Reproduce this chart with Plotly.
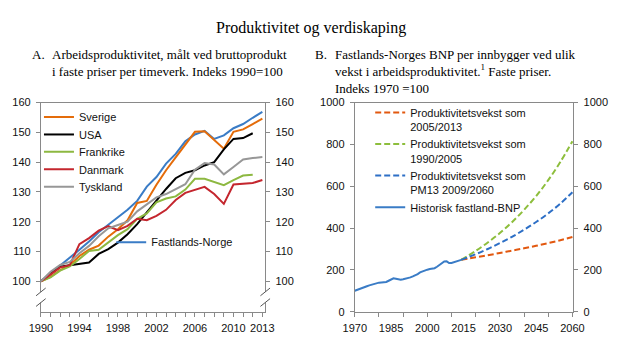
import plotly.graph_objects as go

W, H = 620, 352
def px(x): return x / W
def py(y): return 1 - y / H

# ---------------- Panel A data ----------------
years_a = list(range(1990, 2014))
years_a12 = list(range(1990, 2013))
sverige = [100, 101.5, 103.8, 105.4, 108.5, 110.6, 112.0, 115.0, 117.5, 120.5, 126.3, 127.0,
           132.4, 137.3, 141.6, 146.0, 150.2, 150.4, 147.5, 144.5, 150.2, 151.0, 152.8, 154.6]
usa = [100, 102.4, 104.9, 105.4, 105.8, 106.3, 109.2, 110.8, 113.0, 115.8, 119.2, 123.2,
       127.2, 131.0, 134.6, 136.4, 137.3, 138.9, 140.0, 144.3, 147.8, 148.1, 149.7]
frankrike = [100, 101.3, 103.6, 105.0, 107.5, 110.2, 110.6, 113.0, 115.5, 117.5, 121.0, 122.8,
             126.5, 127.8, 128.5, 130.8, 134.4, 134.4, 133.3, 132.3, 134.0, 135.5, 135.8]
danmark = [100, 102.5, 104.7, 105.4, 112.5, 114.5, 117.0, 118.5, 117.2, 118.6, 121.0, 120.5,
           122.0, 124.0, 127.3, 129.7, 130.8, 131.7, 129.3, 126.0, 132.5, 132.8, 133.0, 134.0]
tyskland = [100, 103.2, 105.5, 106.5, 109.4, 111.9, 115.1, 117.8, 118.9, 120.0, 123.5, 125.8,
            128.2, 129.3, 131.0, 132.6, 137.5, 139.7, 139.2, 135.9, 138.4, 140.9, 141.4, 141.7]
fastlandsnorge = [100, 102.6, 105.2, 107.8, 110.6, 113.4, 116.5, 119.0, 121.5, 124.0, 127.0, 131.8,
                  135.0, 139.5, 142.8, 147.0, 149.3, 150.5, 147.8, 149.0, 151.4, 152.8, 154.9, 156.9]
a_ticklabels = [1990, 1994, 1998, 2002, 2006, 2010, 2013]
a_yticks = [100, 110, 120, 130, 140, 150, 160]

# ---------------- Panel B data ----------------
years_hist = list(range(1970, 2015))
historisk = [100, 105, 110, 114, 118, 122, 126, 130, 132, 136, 139, 140, 141, 142, 148, 156,
             160, 158, 154, 153, 155, 157, 160, 164, 169, 174, 180, 188, 193, 197, 201, 204,
             206, 208, 215, 223, 232, 240, 241, 233, 233, 237, 241, 244, 248]
years_proj = [2014, 2020, 2025, 2030, 2035, 2040, 2045, 2050, 2055, 2060]
vekst_2005_2013 = [248, 260, 270, 281, 292, 303, 315, 328, 342, 357]
vekst_1990_2005 = [248, 291, 331, 376, 428, 487, 553, 629, 716, 815]
vekst_pm13 = [248, 275, 300, 328, 358, 392, 429, 470, 517, 571]
b_ticklabels = [1970, 1985, 2000, 2015, 2030, 2045, 2060]
b_minorticks = list(range(1970, 2061, 10))
b_yticks = [0, 200, 400, 600, 800, 1000]

ORANGE = '#E46C0A'
BLACK = '#000000'
GREEN = '#8DB841'
RED = '#C4262E'
GREY = '#979797'
BLUE = '#3A7CC6'
AXC = '#898989'
SERIF = 'Liberation Serif, Times New Roman, serif'
SANS = 'Liberation Sans, Arial, sans-serif'
TXT = '#111111'

fig = go.Figure()

def add_line(x, y, name, color, xa, ya, legend, dash='solid', shape='linear'):
    fig.add_trace(go.Scatter(x=x, y=y, name=name, mode='lines', xaxis=xa, yaxis=ya,
                             line=dict(color=color, width=2, dash=dash, shape=shape),
                             legend=legend, hoverinfo='skip', showlegend=True))

# Panel A (each legend entry in its own legend box for exact placement)
add_line(years_a, fastlandsnorge, 'Fastlands-Norge', BLUE, 'x', 'y', 'legend2')
add_line(years_a, sverige, 'Sverige', ORANGE, 'x', 'y', 'legend')
add_line(years_a12, usa, 'USA', BLACK, 'x', 'y', 'legend4')
add_line(years_a12, frankrike, 'Frankrike', GREEN, 'x', 'y', 'legend5')
add_line(years_a, danmark, 'Danmark', RED, 'x', 'y', 'legend6')
add_line(years_a, tyskland, 'Tyskland', GREY, 'x', 'y', 'legend7')

# Panel B
add_line(years_proj, vekst_2005_2013, 'Produktivitetsvekst som<br>2005/2013', '#E2580F',
         'x2', 'y3', 'legend3', dash='6px,3px', shape='spline')
add_line(years_proj, vekst_1990_2005, 'Produktivitetsvekst som<br>1990/2005', '#8DBE3C',
         'x2', 'y3', 'legend3', dash='6px,3px', shape='spline')
add_line(years_proj, vekst_pm13, 'Produktivitetsvekst som<br>PM13 2009/2060', '#2D6FC6',
         'x2', 'y3', 'legend3', dash='6px,3px', shape='spline')
add_line(years_hist, historisk, 'Historisk fastland-BNP', BLUE, 'x2', 'y3', 'legend3')

# dummy traces so the overlay axes are drawn
for xa, ya in [('x', 'y2'), ('x3', 'y3'), ('x2', 'y4'), ('x4', 'y')]:
    fig.add_trace(go.Scatter(x=[], y=[], xaxis=xa, yaxis=ya, showlegend=False, hoverinfo='skip'))

ybot, ytop = 316.5, 100
ydom = [py(ybot), py(ytop)]
tickfont = dict(family=SANS, size=11, color=TXT)
axis_common = dict(showgrid=False, zeroline=False, showline=True, linecolor=AXC, linewidth=1,
                   ticks='outside', ticklen=4, tickcolor=AXC, tickwidth=1, tickfont=tickfont)

def leg(x, yc, yanchor='middle', valign='middle'):
    return dict(x=px(x), y=py(yc), xanchor='left', yanchor=yanchor, bgcolor='rgba(0,0,0,0)',
                font=dict(family=SANS, size=11, color=TXT), itemwidth=30, valign=valign)

fig.update_layout(
    width=W, height=H, margin=dict(l=0, r=0, t=0, b=0),
    plot_bgcolor='white', paper_bgcolor='white', showlegend=True,
    font=dict(family=SANS, size=11, color=TXT),
    xaxis=dict(domain=[px(30), px(263)], range=[1990, 2013.3], anchor='y', mirror=True,
               tickmode='array', tickvals=years_a, showticklabels=False, **axis_common),
    xaxis4=dict(overlaying='x', anchor='y', side='bottom', range=[1990, 2013.3],
                tickmode='array', tickvals=a_ticklabels, showline=False, ticks='',
                showgrid=False, zeroline=False, tickfont=tickfont, ticklabelstandoff=8),
    yaxis=dict(domain=ydom, range=[89.8, 160], anchor='x', tickmode='array',
               tickvals=a_yticks, ticklabelstandoff=3, **axis_common),
    yaxis2=dict(overlaying='y', side='right', anchor='x', range=[89.8, 160], tickmode='array',
                tickvals=a_yticks, ticklabelstandoff=3, **axis_common),
    xaxis2=dict(domain=[px(356), px(583)], range=[1970, 2060.4], anchor='y3', mirror=True,
                tickmode='array', tickvals=b_minorticks, showticklabels=False, **axis_common),
    xaxis3=dict(overlaying='x2', anchor='y3', side='bottom', range=[1970, 2060.4],
                tickmode='array', tickvals=b_ticklabels, showline=False, ticks='',
                showgrid=False, zeroline=False, tickfont=tickfont, ticklabelstandoff=8),
    yaxis3=dict(domain=ydom, range=[0, 1000], anchor='x2', tickmode='array',
                tickvals=b_yticks, ticklabelstandoff=3, **axis_common),
    yaxis4=dict(overlaying='y3', side='right', anchor='x2', range=[0, 1000], tickmode='array',
                tickvals=b_yticks, ticklabelstandoff=3, **axis_common),
    legend=leg(28, 115),
    legend4=leg(28, 133),
    legend5=leg(28, 151),
    legend6=leg(28, 169),
    legend7=leg(28, 187),
    legend2=leg(103, 244.5),
    legend3=leg(372, 96, yanchor='top', valign='top'),
)

# Titles
ann = []
ann.append(dict(text='Produktivitet og verdiskaping', x=px(310), y=py(23), xref='paper', yref='paper',
                xanchor='center', yanchor='middle', showarrow=False,
                font=dict(family=SERIF, size=16, color='#000')))
r1 = 49
for lab, xl, xt, txt in [
    ('A.', 19, 39, 'Arbeidsproduktivitet, målt ved bruttoprodukt<br>i faste priser per timeverk. Indeks 1990=100'),
    ('B.', 313, 333, 'Fastlands-Norges BNP per innbygger ved ulik<br>vekst i arbeidsproduktivitet.<sup>1</sup> Faste priser.<br>Indeks 1970 =100')]:
    ann.append(dict(text=lab, x=px(xl), y=py(r1 - 9), xref='paper', yref='paper', xanchor='left',
                    yanchor='top', showarrow=False, font=dict(family=SERIF, size=13, color='#000')))
    ann.append(dict(text=txt, x=px(xt), y=py(r1 - 9), xref='paper', yref='paper', xanchor='left',
                    yanchor='top', align='left', showarrow=False,
                    font=dict(family=SERIF, size=13, color='#000')))
fig.update_layout(annotations=ann)

# axis break marks on panel A
shapes = []
for xa in (30, 263):
    shapes.append(dict(type='rect', xref='paper', yref='paper', x0=px(xa - 2), x1=px(xa + 2),
                       y0=py(307), y1=py(296), line=dict(width=0), fillcolor='white'))
    for yc in (296, 307):
        shapes.append(dict(type='line', xref='paper', yref='paper', x0=px(xa - 5), y0=py(yc + 4),
                           x1=px(xa + 5), y1=py(yc - 4), line=dict(color='#555555', width=1)))
fig.update_layout(shapes=shapes)

fig.write_html('out.html')
